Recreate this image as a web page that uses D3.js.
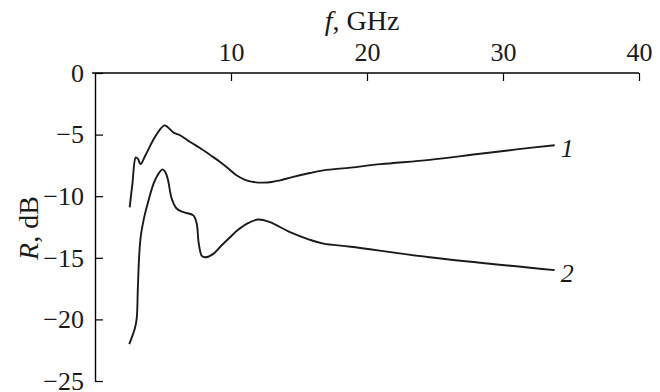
<!DOCTYPE html>
<html>
<head>
<meta charset="utf-8">
<script src="https://cdn.jsdelivr.net/npm/d3@7"></script>
<style>
  body { margin: 0; background: #fff; }
  svg text { font-family: "Liberation Serif", "DejaVu Serif", serif; fill: #1a1a1a; }
</style>
</head>
<body>
<div id="chart"></div>
<script>
// frequency (GHz) and reflection (dB)
const f1 = [2.55, 2.75, 3.0, 3.15, 3.35, 3.7, 4.3, 4.8, 5.1, 5.35, 5.8, 6.25, 7.0, 7.8, 8.6, 9.2, 9.8, 10.4, 11.0, 11.5, 12.3, 13.0, 13.6, 14.5, 15.8, 16.8, 18.8, 21, 24.6, 28, 31, 33.8];
const r1 = [-10.9, -9.0, -6.85, -6.95, -7.4, -6.7, -5.4, -4.55, -4.25, -4.4, -4.85, -5.05, -5.6, -6.15, -6.75, -7.22, -7.75, -8.3, -8.65, -8.82, -8.9, -8.85, -8.71, -8.45, -8.12, -7.9, -7.68, -7.4, -7.05, -6.6, -6.2, -5.86];

const f2 = [2.52, 2.94, 3.07, 3.15, 3.25, 3.36, 3.6, 3.8, 4.3, 4.6, 4.95, 5.15, 5.35, 5.64, 6.0, 6.5, 7.23, 7.48, 7.6, 7.72, 7.84, 8.09, 8.7, 9.3, 9.93, 10.5, 11.15, 12.0, 12.87, 14.34, 15.8, 16.8, 18.8, 24.6, 33.8];
const r2 = [-22.0, -20.7, -19.9, -17.5, -14.8, -13.3, -11.8, -10.9, -9.0, -8.3, -7.82, -8.0, -8.6, -10.2, -11.0, -11.3, -11.56, -12.24, -13.6, -14.4, -14.82, -14.96, -14.68, -14.0, -13.33, -12.75, -12.24, -11.89, -12.11, -12.92, -13.54, -13.85, -14.1, -14.95, -16.0];

const xTicks = [10, 20, 30, 40];
const yTicks = [0, -5, -10, -15, -20, -25];
const seriesLabels = ["1", "2"];

const W = 660, H = 392;
const margin = { top: 73, left: 95, right: 21, bottom: 11 };
const tickFont = 26;
const titleFont = 28;

const svg = d3.select("#chart").append("svg")
  .attr("width", W)
  .attr("height", H);

const x = d3.scaleLinear().domain([0, 40]).range([margin.left, W - margin.right]);
const y = d3.scaleLinear().domain([0, -25]).range([margin.top, H - margin.bottom]);

const fmt = d => d < 0 ? "\u2212" + Math.abs(d) : String(d);

// top axis
const xAxis = svg.append("g")
  .attr("transform", "translate(0," + margin.top + ")")
  .call(d3.axisTop(x).tickValues(xTicks).tickSizeInner(-8).tickSizeOuter(0).tickPadding(12));
xAxis.select(".domain").attr("d", "M" + (margin.left - 3) + ",0H" + x(40)).attr("stroke-width", 1.4);
xAxis.selectAll(".tick line").attr("stroke-width", 1.2);
xAxis.selectAll("text").attr("font-size", tickFont).attr("fill", "#1a1a1a");

// left axis
const yAxis = svg.append("g")
  .attr("transform", "translate(" + margin.left + ",0)")
  .call(d3.axisLeft(y).tickValues(yTicks).tickFormat(fmt).tickSizeInner(-8).tickSizeOuter(0).tickPadding(11));
yAxis.select(".domain").attr("stroke-width", 1.4);
yAxis.selectAll(".tick line").attr("stroke-width", 1.2);
yAxis.selectAll("text").attr("font-size", tickFont).attr("fill", "#1a1a1a");

// axis titles
const xt = svg.append("text")
  .attr("x", 362)
  .attr("y", 30)
  .attr("text-anchor", "middle")
  .attr("font-size", titleFont);
xt.append("tspan").attr("font-style", "italic").text("f");
xt.append("tspan").text(", GHz");

const yt = svg.append("text")
  .attr("transform", "translate(38,228) rotate(-90)")
  .attr("text-anchor", "middle")
  .attr("font-size", titleFont);
yt.append("tspan").attr("font-style", "italic").text("R");
yt.append("tspan").text(", dB");

const line = d3.line()
  .x(d => x(d[0]))
  .y(d => y(d[1]))
  .curve(d3.curveCatmullRom.alpha(0.5));

const series = [d3.zip(f1, r1), d3.zip(f2, r2)];

svg.selectAll("path.curve")
  .data(series)
  .enter()
  .append("path")
  .attr("class", "curve")
  .attr("fill", "none")
  .attr("stroke", "#1a1a1a")
  .attr("stroke-width", 1.9)
  .attr("d", line);

svg.selectAll("text.lbl")
  .data(series)
  .enter()
  .append("text")
  .attr("class", "lbl")
  .attr("x", d => x(d[d.length - 1][0]) + 6)
  .attr("y", d => y(d[d.length - 1][1]) + 12)
  .attr("font-size", tickFont)
  .attr("font-style", "italic")
  .text((d, i) => seriesLabels[i]);
</script>
</body>
</html>
